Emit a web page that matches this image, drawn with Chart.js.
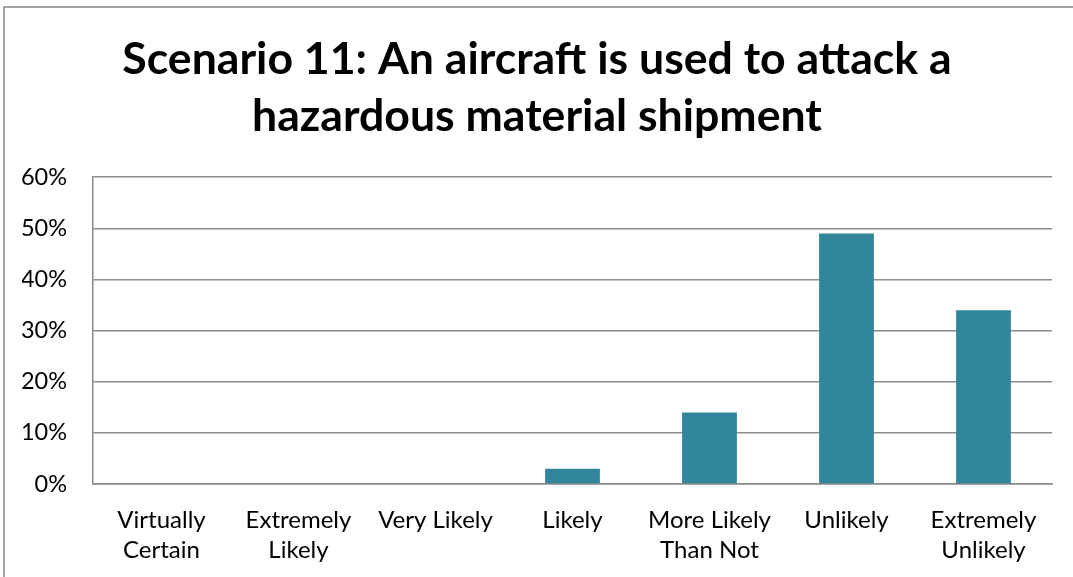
<!DOCTYPE html>
<html>
<head>
<meta charset="utf-8">
<script src="https://cdn.jsdelivr.net/npm/chart.js@4"></script>
<style>
  body { margin: 0; background: #fff; }
  #wrap { position: relative; width: 1073px; height: 577px; }
</style>
</head>
<body>
<div id="wrap"><canvas id="myChart"></canvas></div>
<script>
// données
const categories = [
    ['Virtually', 'Certain'],
    ['Extremely', 'Likely'],
    'Very Likely',
    'Likely',
    ['More Likely', 'Than Not'],
    'Unlikely',
    ['Extremely', 'Unlikely'],
];
const values = [0, 0, 0, 3, 14, 49, 34];
const yTicks = [0, 10, 20, 30, 40, 50, 60];
const titleLines = ['Scenario 11: An aircraft is used to attack a', 'hazardous material shipment'];

window.addEventListener("DOMContentLoaded", () => {

    // cadre gris autour du graphique (bord gauche + haut)
    const frame = {
        id: 'frame',
        afterDraw(chart) {
            const ctx = chart.ctx;
            ctx.save();
            ctx.strokeStyle = '#868686';
            ctx.lineWidth = 1.5;
            ctx.beginPath();
            ctx.moveTo(4, 577);
            ctx.lineTo(4, 7);
            ctx.lineTo(1073, 7);
            ctx.stroke();
            ctx.restore();
        }
    };

    const config = {
        type: 'bar',
        data: {
            labels: categories,
            datasets: [{
                data: values,
                backgroundColor: '#31859C',
                borderWidth: 0,
                barPercentage: 0.8,
                categoryPercentage: 0.5,
            }]
        },
        options: {
            responsive: true,
            maintainAspectRatio: false,
            animation: false,
            layout: { padding: { left: 22, right: 21, top: 31, bottom: 0 } },
            plugins: {
                legend: { display: false },
                tooltip: { enabled: false },
                title: {
                    display: true,
                    text: titleLines,
                    color: '#000',
                    font: { family: 'Lato', size: 44.6, weight: 'bold', lineHeight: 1.28 },
                    padding: { top: 0, bottom: 32 }
                }
            },
            scales: {
                x: {
                    grid: { display: false, drawTicks: false },
                    border: { color: '#888', width: 1.5 },
                    afterFit: (axis) => { axis.height = 93; },
                    ticks: {
                        color: '#000',
                        padding: 21,
                        maxRotation: 0,
                        autoSkip: false,
                        font: { family: 'Lato', size: 24, lineHeight: 1.25 }
                    }
                },
                y: {
                    min: 0,
                    max: 60,
                    afterBuildTicks: (axis) => { axis.ticks = yTicks.map(v => ({ value: v })); },
                    afterFit: (axis) => { axis.width = 71; },
                    grid: { color: '#8c8c8c', lineWidth: 1.5, drawTicks: false },
                    border: { color: '#888', width: 1.5 },
                    ticks: {
                        color: '#000',
                        padding: 26,
                        callback: (v) => v + '%',
                        font: { family: 'Lato', size: 23.5 }
                    }
                }
            }
        },
        plugins: [frame]
    };

    new Chart(document.getElementById('myChart'), config);
});
</script>
</body>
</html>
